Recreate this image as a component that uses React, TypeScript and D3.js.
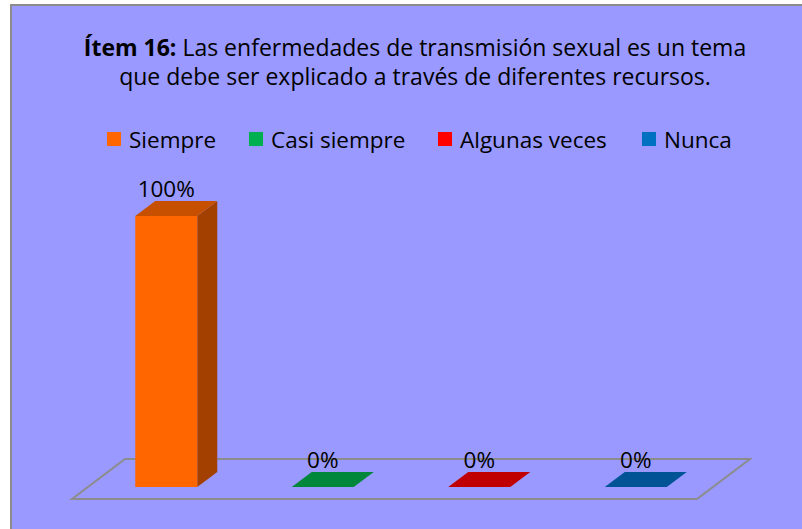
import React from "react";
import * as d3 from "d3";

const categories = ["Siempre", "Casi siempre", "Algunas veces", "Nunca"];
const values = [1, 0, 0, 0];
const valueLabels = ["100%", "0%", "0%", "0%"];
const titleBold = "Ítem 16:";
const titleRest1 = " Las enfermedades de transmisión sexual es un tema";
const titleLine2 = "que debe ser explicado a través de diferentes recursos.";

const frontColors = ["#FF6600", "#00873C", "#C00000", "#005496"];
const topColors = ["#C65000", "#00873C", "#C00000", "#005496"];
const sideColors = ["#A34000", "#006A2F", "#990000", "#003F72"];
const legendColors = ["#FF6600", "#00B050", "#FF0000", "#0070C0"];
const legendX = [107, 249, 438, 642];

const FONT = "'Open Sans', 'DejaVu Sans', sans-serif";
const FS = 22.5;
const TFS = 23;

export default function App() {
  const W = 802, H = 529;
  const x = d3.scaleBand<string>().domain(categories).range([88, 714]).padding(0);
  const y = d3.scaleLinear().domain([0, 1]).range([487, 216]);
  const barW = 62;
  const dx = 20, dy = -15;
  const floor = { fl: 72, fr: 697, fy: 499, ddx: 53, ddy: -40 };
  const floorPath = d3.path();
  floorPath.moveTo(floor.fl, floor.fy);
  floorPath.lineTo(floor.fr, floor.fy);
  floorPath.lineTo(floor.fr + floor.ddx, floor.fy + floor.ddy);
  floorPath.lineTo(floor.fl + floor.ddx, floor.fy + floor.ddy);
  floorPath.closePath();

  return (
    <svg width={W} height={H} style={{ position: "absolute", left: 0, top: 0, background: "#fff" }}>
      <rect x={11} y={5} width={W} height={H} fill="#9999FF" stroke="#8C8C8C" strokeWidth={2} />
      <text x={415} y={56} textAnchor="middle" fontFamily={FONT} fontSize={TFS} fill="#000">
        <tspan fontWeight="bold">{titleBold}</tspan>
        <tspan>{titleRest1}</tspan>
      </text>
      <text x={415} y={85} textAnchor="middle" fontFamily={FONT} fontSize={TFS} fill="#000">
        {titleLine2}
      </text>
      {categories.map((c, i) => (
        <g key={c}>
          <rect x={legendX[i]} y={132} width={14} height={14} fill={legendColors[i]} />
          <text x={legendX[i] + 22} y={148} fontFamily={FONT} fontSize={FS} fill="#000">{c}</text>
        </g>
      ))}
      <path d={floorPath.toString()} fill="none" stroke="#8C8C8C" strokeWidth={2} />
      {categories.map((c, i) => {
        const cx = (x(c) as number) + x.bandwidth() / 2;
        const x0 = cx - barW / 2, x1 = cx + barW / 2;
        const yb = y(0), yt = y(values[i]);
        const h = yb - yt;
        return (
          <g key={c}>
            {h > 0 && (
              <>
                <polygon points={`${x1},${yb} ${x1 + dx},${yb + dy} ${x1 + dx},${yt + dy} ${x1},${yt}`} fill={sideColors[i]} />
                <rect x={x0} y={yt} width={barW} height={h} fill={frontColors[i]} />
              </>
            )}
            <polygon points={`${x0},${yt} ${x1},${yt} ${x1 + dx},${yt + dy} ${x0 + dx},${yt + dy}`} fill={topColors[i]} />
            <text x={cx} y={yt - 19} textAnchor="middle" fontFamily={FONT} fontSize={FS} fill="#000">{valueLabels[i]}</text>
          </g>
        );
      })}
    </svg>
  );
}
